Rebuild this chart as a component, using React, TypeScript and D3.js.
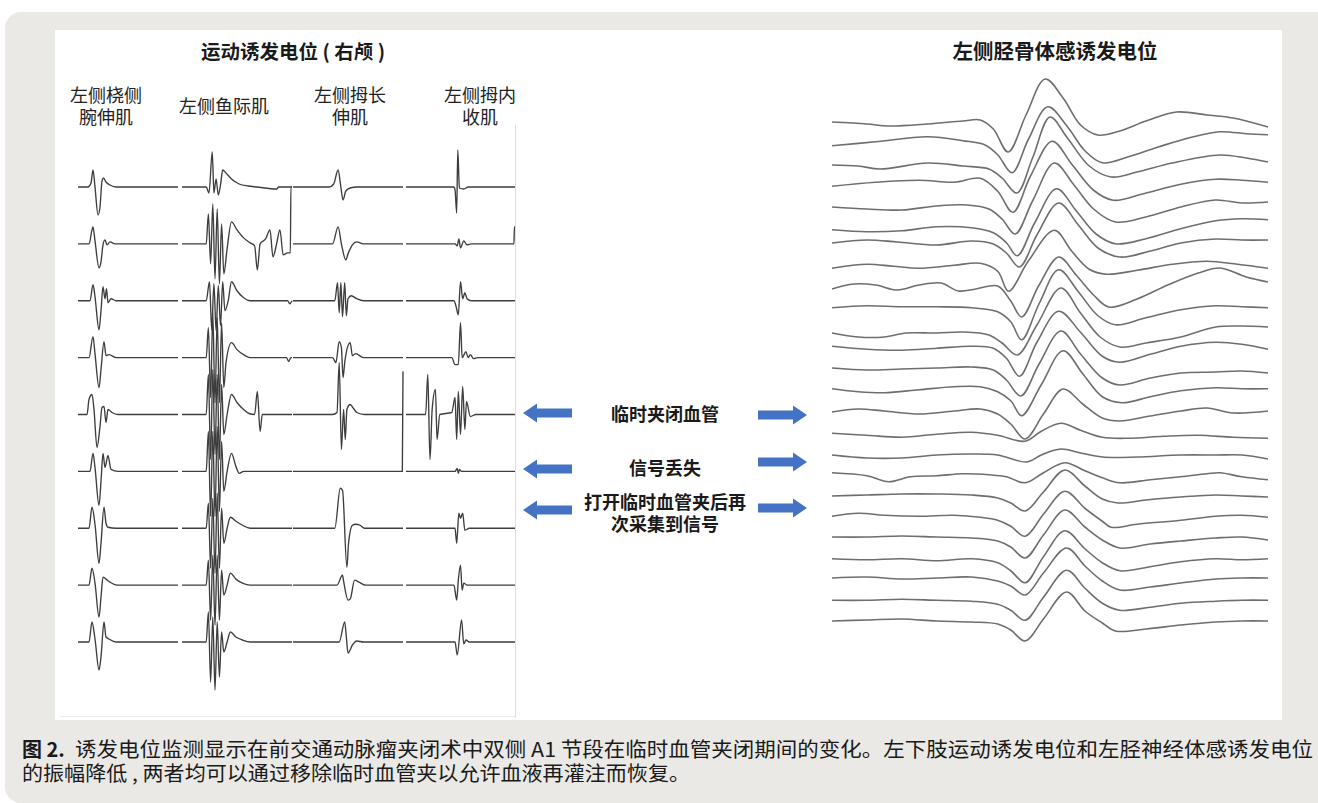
import React from 'react';
import * as d3 from 'd3';

type P = [number, number];

// ---------- Motor evoked potentials (9 sweeps x 4 muscles) ----------
// t: 0-100 (ms within channel window), v: amplitude (uV-like, + is up)
const mepChannelNames = ['左侧桡侧腕伸肌', '左侧鱼际肌', '左侧拇长伸肌', '左侧拇内收肌'];

const mepCh1: P[][] = [
  [[10, 0], [13, 4], [15, 17], [17, 0], [20, -28], [22, -20], [24, 6], [25.5, 9], [28, 5], [32, 2], [38, 0]],
  [[11, 0], [14, 14], [15, 17], [17, 3], [21, -24], [23, -18], [25, -1], [27, 4], [29, -1], [32, 2], [37, 0]],
  [[12, 0], [15, 16], [17, 4], [21, -29], [23, -10], [25, 14], [27, 2], [28.5, 12], [30, -2], [33, 2], [38, 0]],
  [[11, 0], [15, 21], [17, 4], [21, -30], [23, -12], [26, 16], [28, 2], [31, 3], [38, 0]],
  [[9, 0], [11, 15], [14, 20], [16, 5], [19, -33], [22, -12], [24, 7], [26, 8], [28, -8], [30, 5], [34, 2], [40, 0]],
  [[12, 0], [15, 18], [17, 4], [21, -34], [23, -10], [25, 18], [27, 4], [30, 16], [33, 2], [40, 0]],
  [[11, 0], [14, 21], [17, 4], [21, -35], [23, -15], [26, 21], [28, 5], [30, 1], [38, 0]],
  [[11, 0], [14, 17], [17, 2], [21, -32], [23, -12], [25, 8], [28, 6], [32, 3], [39, 0]],
  [[11, 0], [14, 20], [17, 3], [21, -28], [23, -15], [26, 20], [28, 5], [31, 3], [38, 0]],
];

const mepCh2: P[][] = [
  [[22, 0], [24.5, -6], [27.5, 35], [29, -6], [31, 8], [33, -8], [35, 2], [37, 17], [40, 14], [45, 8], [52, 3], [60, 1], [68, 0], [86, -2], [88, 0]],
  [[22, 0], [24, 30], [26, -20], [28, 40], [30, -35], [32, 35], [34, -40], [36, 20], [38, -30], [41, -5], [45, 22], [50, 14], [56, 6], [62, 1], [66, -2], [68.5, -26], [71, 0], [76, 5], [80, 14], [82.7, -13], [86, 0], [89, 14], [92, -11], [96, -9], [98.5, -9], [99, 57], [100, 57]],
  [[22, 0], [25, 19], [27, -29], [29, 17], [31, -30], [33, 15], [35, -25], [37, 19], [39, -10], [42, 0], [45, 19], [50, 10], [55, 4], [62, 0], [96, 0], [98, -3], [100, 0]],
  [[22, 0], [24, 30], [26, -40], [28, 45], [30, -45], [32, 40], [34, -45], [36, 35], [38, -30], [40, -5], [45, 15], [50, 8], [56, 3], [62, 0], [95, 0], [97, -4], [99, 0]],
  [[22, 0], [24, 40], [26, -45], [28, 45], [30, -40], [32, 40], [34, -45], [36, 30], [38, -20], [41, 0], [45, 20], [50, 12], [56, 5], [61, 1], [66, 0], [68.5, 23], [71, -17], [73, 0]],
  [[22, 0], [24, 40], [26, -45], [28, 40], [30, -45], [32, 45], [34, -40], [36, 30], [38, -20], [41, 0], [45, 18], [49, 5], [52, -2], [56, 0]],
  [[22, 0], [24, 25], [26, -40], [28, 30], [30, -45], [32, 35], [34, -40], [36, 20], [38, -15], [41, 0], [44, 11], [49, 7], [55, 3], [62, 0]],
  [[22, 0], [24, 25], [26, -35], [28, 30], [30, -40], [32, 30], [34, -35], [36, 15], [38, -10], [41, 0], [44, 12], [49, 6], [55, 2], [62, 0]],
  [[22, 0], [24, 30], [26, -40], [28, 25], [30, -48], [32, 20], [34, -35], [36, 10], [38, -10], [41, 0], [44, 10], [49, 5], [55, 2], [62, 0]],
];

const mepCh3: P[][] = [
  [[33, 0], [37, 3], [41, 17], [43.5, 0], [45.5, -13], [48, -4], [52, -1], [58, 0]],
  [[36, 0], [41, 17], [44, 0], [48, -16], [50, -10], [54, -1], [58, 2], [64, 0]],
  [[38, 0], [40.5, 18], [42, -12], [43.5, 18], [45, -16], [47, 18], [48.5, -15], [50, 2], [53, 5], [58, 2], [64, 0]],
  [[36, 0], [39, -5], [42, 16], [44, 10], [45.5, -20], [47, -5], [50, 12], [52, 15], [54, 2], [57, 4], [64, 0]],
  [[36, 0], [40, 2], [42, 52], [44, -35], [46, 5], [47.5, -25], [49, 5], [52, 10], [55, 6], [58, 2], [65, 0]],
  [[99.4, 0], [100, 100]],
  [[38, 0], [43, 40], [45, 38], [49, -39], [50.5, -15], [54, 3], [57, 4], [61, 3], [65, 0]],
  [[40, 0], [45, 10], [46, 4], [50, -15], [52, -14], [56, 5], [60, 3], [66, 0]],
  [[42, 0], [47, 20], [48.5, 5], [50, -11], [54, -3], [58, 1], [64, 0]],
];

const mepCh4: P[][] = [
  [[44, 0], [45, -3], [46.5, -26], [47.5, 37], [49, -1], [53, -2], [57, 0]],
  [[45, 0], [47, -2], [48.5, 5], [50, -4], [53, 3], [56, -1], [60, 0], [99, 0], [99.5, 17], [100, 17]],
  [[44, 0], [46, -6], [48, -14], [50, 19], [52, 2], [54, 8], [56, 2], [60, 0]],
  [[42, 0], [45, -7], [48, -7], [50, 35], [51.5, 0], [55, 6], [57, 0], [59, 3], [62, -1], [66, 0]],
  [[18, 0], [20, 40], [22, -45], [24, 5], [27, 25], [28.5, -25], [31, 0], [42, 2], [45, 17], [46.5, -25], [48, 23], [50, -20], [52, 28], [54, -15], [55.5, 13], [59, -2], [64, 0]],
  [[45, 0], [47, 3], [48, -2], [49, 2], [51, 0]],
  [[45, 0], [46.5, -15], [48.5, 15], [50, 10], [52, 15], [54, -2], [58, 0]],
  [[44, 0], [46.5, -15], [48, 5], [50, 20], [51.5, -5], [53, 2], [56, 0]],
  [[45, 0], [47, -13], [51, 22], [53, -2], [55, 2], [58, 0]],
];

// ---------- Somatosensory evoked potentials (25 sweeps) ----------
const ssepDC: number[] = [0, -1, -1.5, -1, -1, -4, 4.5, 1, 2, 2, -2.5, 5, 2, 4, 1.5, 1, 0, 3, 0.5, 1, 1, 0, 1.5, 0, 0];

const ssepTraces: P[][] = [
  [[0, 1], [8, -1], [13, -3], [22, -1], [30, 2], [34, 3], [37, -6], [40.4, -29], [44.5, 8], [48.9, 44], [53, 25], [57, -2], [61, -12], [66, -8], [72, 2], [79, 11], [86, 8], [92, 5], [100, -4]],
  [[0, -1], [10, 3], [22, 8], [30, 4], [35, 0], [38, -10], [41.3, -28], [45, 5], [49.5, 38], [54, 18], [58, -6], [62, -18], [68, -12], [75, -2], [82, 7], [89, 13], [95, 11], [100, 10]],
  [[0, 1], [6, 0], [11, -3], [22, 3], [30, 0], [36, -3], [39, -12], [42.4, -27], [46, 8], [50, 49], [54, 28], [59, 0], [64, -11], [70, -6], [78, 3], [89, 11], [95, 8], [100, 4]],
  [[0, 0], [10, 4], [20, 6], [28, 4], [34, 8], [38, -5], [41.5, -26], [45.5, 10], [50.5, 45], [55, 22], [60, -4], [64.5, -14], [71, -8], [80, 2], [88, 7], [94, 6], [100, 4]],
  [[0, 0], [8, -2], [16, -3], [24, 1], [31, 2], [36, -2], [39, -12], [42, -27], [46, 6], [51, 44], [55.5, 22], [60, -2], [65, -15], [72, -10], [80, 0], [88, 7], [94, 4], [100, 5]],
  [[0, 1], [8, -1], [16, 0], [24, 4], [32, 3], [37, -2], [40, -12], [42.5, -25], [46.5, 8], [51.5, 42], [56, 20], [60.5, -3], [65, -13], [72, -8], [80, 2], [88, 10], [94, 12], [100, 11]],
  [[0, 0], [8, 3], [15, 1], [24, -2], [32, 2], [37, -1], [40, -10], [43, -24], [47, 8], [52, 40], [56.5, 18], [61, -5], [66, -14], [73, -8], [80, 0], [88, 4], [94, 3], [100, 3]],
  [[0, -1], [8, 3], [14, 1], [20, -1], [28, 2], [34, 4], [38, -4], [40.5, -24], [45, 6], [51, 37], [55, 16], [59, -2], [63, -7], [70, -3], [78, 3], [86, 6], [93, 3], [100, -1]],
  [[0, -2], [5, 3], [10, 2], [15, -3], [20, 2], [25, 4], [29, -4], [33, -2], [38, 1], [41, -14], [43.5, -30], [47.5, 2], [52, 30], [56, 12], [60, -8], [63.5, -20], [70, -12], [77, 2], [84, 14], [89, 19], [95, 10], [100, 5]],
  [[0, 0], [8, 2], [16, 1], [24, 1], [32, 0], [38, -4], [41, -14], [43.5, -32], [47.5, 4], [52, 38], [56.5, 16], [61, -8], [65, -17], [72, -10], [80, -2], [88, 2], [94, 1], [100, 0]],
  [[0, 0], [6, -4], [12, -4], [17, 0], [24, 0], [30, 1], [36, -2], [39, -10], [42.5, -22], [47, 8], [52.5, 45], [57, 20], [61.5, -4], [66, -14], [72, -10], [80, -4], [88, 6], [94, 7], [100, 6]],
  [[0, 0], [8, -3], [16, -4], [24, -2], [32, 0], [37, -2], [40, -12], [43, -30], [47, 4], [52, 35], [57, 14], [62, -10], [66, -16], [73, -8], [80, 0], [88, 4], [94, 2], [100, -3]],
  [[0, 2], [8, 0], [16, 1], [24, 2], [32, 3], [37, 0], [40, -10], [43.3, -26], [47.5, 6], [52.5, 39], [57, 16], [62, -8], [66, -15], [73, -8], [80, -3], [88, -2], [94, -1], [100, -3]],
  [[0, 0], [6, -3], [12, -4], [20, -1], [28, 2], [34, 2], [38, -3], [41, -12], [43.5, -27], [48, 4], [53, 38], [57.5, 15], [62, -8], [66.5, -14], [73, -8], [80, -2], [88, 1], [94, 0], [100, 0]],
  [[0, 0], [6, 3], [12, 1], [20, -2], [28, 1], [34, 3], [38, -2], [41, -12], [44.3, -27], [48.5, -2], [53, 23], [57.5, 8], [62, -6], [66, -9], [73, -4], [80, 1], [86, 4], [92, -1], [100, 1]],
  [[0, 0], [8, -2], [16, -4], [24, -1], [32, 1], [38, -2], [44.3, -8], [48, 2], [52.5, 10], [57, 3], [62, -4], [68, -5], [76, -3], [84, -2], [92, -4], [100, -5]],
  [[0, 0], [8, -3], [16, -3], [24, 0], [32, 1], [38, 0], [44.7, -7], [48, 0], [52.5, 6], [57, 2], [62, -2], [70, -2], [80, 0], [88, 0], [94, 0], [100, -4]],
  [[0, 0], [8, -3], [13, -9], [18, -4], [24, -3], [30, -1], [36, -2], [40, -4], [44.3, -10], [48.5, 0], [53.4, 10], [58, 2], [62, -5], [66, -10], [73, -7], [80, -4], [86, -1], [89, 0], [94, -4], [100, -7]],
  [[0, 0], [8, 1], [16, 2], [24, 2], [32, 1], [38, -2], [41, -7], [44.3, -15], [48.5, 4], [53.4, 26], [58, 10], [62, -3], [65.6, -7], [72, -4], [80, -1], [88, 1], [94, 0], [100, -1]],
  [[0, 0], [6, 3], [12, 1], [20, 0], [28, 1], [34, -1], [38, -4], [41, -10], [44.3, -20], [48.5, 2], [53.4, 25], [58, 8], [62, -5], [64, -11], [70, -8], [80, -4], [88, 0], [94, 1], [100, -1]],
  [[0, 0], [8, 0], [16, 1], [24, 0], [32, -1], [38, -4], [41, -10], [44.3, -21], [48.5, 2], [53.4, 27], [58, 10], [62, -3], [66, -11], [73, -7], [80, -4], [88, -1], [94, 0], [100, -3]],
  [[0, 0], [8, -1], [16, 0], [24, -2], [32, 0], [38, -4], [41, -12], [44.3, -24], [48.5, 2], [53.4, 28], [58, 10], [62, -4], [66, -12], [73, -8], [80, -3], [88, 0], [94, -1], [100, 0]],
  [[0, 0], [8, 1], [16, -1], [24, 0], [32, 1], [38, -3], [41, -8], [44.3, -17], [48.5, 5], [53.8, 30], [58, 12], [62, -3], [66, -12], [73, -9], [80, -5], [88, -1], [94, 0], [100, 0]],
  [[0, 0], [8, 0], [16, 1], [24, 0], [32, -1], [38, -4], [41, -10], [44.3, -20], [48.5, 3], [53.8, 30], [58, 12], [62, -3], [66, -10], [73, -7], [80, -3], [88, -1], [94, 0], [100, 0]],
  [[0, 0], [8, 1], [16, 2], [24, 0], [32, -1], [38, -3], [41, -9], [44.3, -20], [48.5, 2], [53.8, 29], [58, 10], [62, -2], [65, -10], [72, -8], [80, -4], [88, -1], [94, 0], [100, 0]],
];

// ---------- Texts ----------
const leftTitle = '运动诱发电位 ( 右颅 )';
const rightTitle = '左侧胫骨体感诱发电位';
const channelLabelLines: string[][] = [['左侧桡侧', '腕伸肌'], ['左侧鱼际肌'], ['左侧拇长', '伸肌'], ['左侧拇内', '收肌']];
const eventLabels: string[][] = [['临时夹闭血管'], ['信号丢失'], ['打开临时血管夹后再', '次采集到信号']];
const captionBold = '图 2.';
const captionLine1 = '诱发电位监测显示在前交通动脉瘤夹闭术中双侧 A1 节段在临时血管夹闭期间的变化。左下肢运动诱发电位和左胫神经体感诱发电位';
const captionLine2 = '的振幅降低 , 两者均可以通过移除临时血管夹以允许血液再灌注而恢复。';

const CJK = '"Noto Sans CJK SC", "Noto Sans", sans-serif';

function withBaseline(pts: P[]): P[] {
  const out = pts.slice();
  if (out[0][0] > 0) out.unshift([0, 0]);
  if (out[out.length - 1][0] < 100) out.push([100, 0]);
  return out;
}

function LeftArrow({ tip, y }: { tip: number; y: number }) {
  const head = 14, hh = 9.5, sh = 4.5, len = 49;
  const d = `M${tip},${y} L${tip + head},${y - hh} L${tip + head},${y - sh} L${tip + len},${y - sh} L${tip + len},${y + sh} L${tip + head},${y + sh} L${tip + head},${y + hh} Z`;
  return <path d={d} fill="#4472c4" />;
}
function RightArrow({ tip, y }: { tip: number; y: number }) {
  const head = 14, hh = 9.5, sh = 4.5, len = 49;
  const d = `M${tip},${y} L${tip - head},${y - hh} L${tip - head},${y - sh} L${tip - len},${y - sh} L${tip - len},${y + sh} L${tip - head},${y + sh} L${tip - head},${y + hh} Z`;
  return <path d={d} fill="#4472c4" />;
}

export default function App() {
  const W = 1318, H = 803;
  const amp = d3.scaleLinear().domain([-50, 50]).range([50, -50]);

  // MEP layout
  const mepRowY = d3.scalePoint<number>().domain(d3.range(9)).range([187, 642]);
  const chRanges: [number, number][] = [[78, 178], [182, 292], [293, 403], [406, 515]];
  const chData = [mepCh1, mepCh2, mepCh3, mepCh4];
  const chLabelX = [106, 224, 350, 480];

  const mepPaths: { d: string; key: string }[] = [];
  chData.forEach((rows, c) => {
    const x = d3.scaleLinear().domain([0, 100]).range(chRanges[c]);
    rows.forEach((pts, r) => {
      const y0 = mepRowY(r) as number;
      const line = d3.line<P>().x(d => x(d[0])).y(d => y0 + amp(d[1])).curve(d3.curveMonotoneX);
      mepPaths.push({ d: line(withBaseline(pts)) || '', key: `m${c}-${r}` });
    });
  });

  // SSEP layout
  const ssepX = d3.scaleLinear().domain([0, 100]).range([832, 1268]);
  const ssepRowY = d3.scalePoint<number>().domain(d3.range(ssepTraces.length)).range([123, 621]);
  const ssepPaths = ssepTraces.map((pts, i) => {
    const y0 = (ssepRowY(i) as number) + amp(ssepDC[i]);
    const line = d3.line<P>().x(d => ssepX(d[0])).y(d => y0 + amp(d[1])).curve(d3.curveCatmullRom.alpha(0.5));
    return line(pts) || '';
  });

  const eventY = [[421], [474.5], [508.5, 531]];
  const leftArrowY = [413, 469, 510];
  const rightArrowY = [415, 462, 508];

  return (
    <div style={{ position: 'absolute', left: 0, top: 0 }}>
      <svg width={W} height={H} viewBox={`0 0 ${W} ${H}`} style={{ display: 'block' }}>
        <rect x={0} y={0} width={W} height={H} fill="#ffffff" />
        <rect x={5} y={12} width={W + 30} height={791} rx={16} fill="#ebe9e5" />
        <rect x={55} y={30} width={1227} height={690} fill="#ffffff" />
        <line x1={515.5} y1={125} x2={515.5} y2={718} stroke="#dedede" strokeWidth={1} />
        <line x1={60} y1={716.5} x2={515} y2={716.5} stroke="#ececec" strokeWidth={1} />

        {/* Titles */}
        <text x={293} y={59} textAnchor="middle" fontFamily={CJK} fontWeight={700} fontSize={19.5} fill="#1a1a1a">{leftTitle}</text>
        <text x={1055} y={59} textAnchor="middle" fontFamily={CJK} fontWeight={700} fontSize={20.5} fill="#1a1a1a">{rightTitle}</text>

        {channelLabelLines.map((lines, c) => {
          const ys = lines.length === 2 ? [102, 124] : [113];
          return lines.map((s, k) => (
            <text key={`cl${c}-${k}`} x={chLabelX[c]} y={ys[k]} textAnchor="middle" fontFamily={CJK} fontSize={18} fill="#222">{s}</text>
          ));
        })}

        {/* MEP traces */}
        <g fill="none" stroke="#3d3d3d" strokeWidth={1.35} strokeLinejoin="round">
          {mepPaths.map(p => <path key={p.key} d={p.d} />)}
        </g>

        {/* SSEP traces */}
        <g fill="none" stroke="#6e6e6e" strokeWidth={1.6} strokeLinejoin="round">
          {ssepPaths.map((d, i) => <path key={`s${i}`} d={d} />)}
        </g>

        {/* Event annotations */}
        {eventLabels.map((lines, i) => lines.map((s, k) => (
          <text key={`ev${i}-${k}`} x={665} y={eventY[i][k]} textAnchor="middle" fontFamily={CJK} fontWeight={700} fontSize={18} fill="#1a1a1a">{s}</text>
        )))}
        {leftArrowY.map((y, i) => <LeftArrow key={`la${i}`} tip={523} y={y} />)}
        {rightArrowY.map((y, i) => <RightArrow key={`ra${i}`} tip={807} y={y} />)}

        {/* Caption */}
        <text x={22} y={757} fontFamily={CJK} fontSize={20} fontWeight={700} fill="#1a1a1a">{captionBold}</text>
        <text x={75} y={757} fontFamily={CJK} fontSize={20} fill="#1a1a1a" textLength={1238} lengthAdjust="spacingAndGlyphs">{captionLine1}</text>
        <text x={22} y={781} fontFamily={CJK} fontSize={20} fill="#1a1a1a" textLength={668} lengthAdjust="spacingAndGlyphs">{captionLine2}</text>
      </svg>
    </div>
  );
}
